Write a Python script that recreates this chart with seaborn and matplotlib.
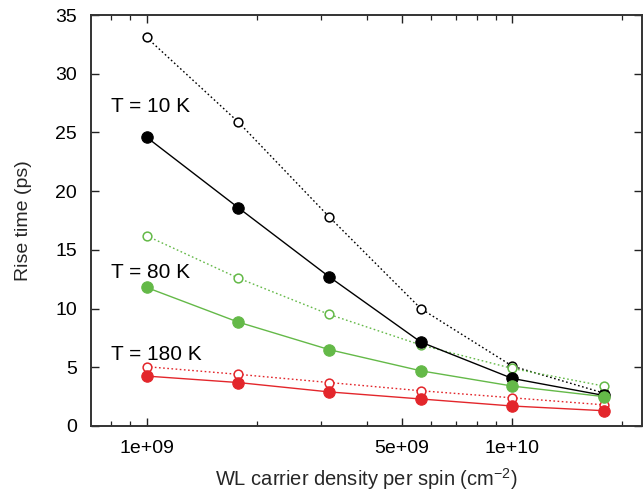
import matplotlib
matplotlib.use("Agg")
import matplotlib.pyplot as plt
import matplotlib.ticker as mticker
import numpy as np
import pandas as pd
import seaborn as sns

# Carrier density per spin (cm^-2)
density = [1.0e9, 1.78e9, 3.16e9, 5.62e9, 1.0e10, 1.78e10]

# Rise times (ps): filled = solid lines, open = dotted lines
rise_10K_filled = [24.6, 18.6, 12.7, 7.15, 4.05, 2.6]
rise_10K_open = [33.1, 25.9, 17.8, 10.0, 5.1, 2.8]
rise_80K_filled = [11.8, 8.85, 6.5, 4.7, 3.4, 2.5]
rise_80K_open = [16.2, 12.6, 9.5, 6.9, 4.9, 3.4]
rise_180K_filled = [4.25, 3.7, 2.9, 2.3, 1.7, 1.3]
rise_180K_open = [5.05, 4.4, 3.7, 3.0, 2.4, 1.8]

temp_labels = ["T = 10 K", "T = 80 K", "T = 180 K"]
xtick_values = [1e9, 5e9, 1e10]
xtick_labels = ["1e+09", "5e+09", "1e+10"]
ytick_values = [0, 5, 10, 15, 20, 25, 30, 35]

BLACK = "#000000"
GREEN = "#64b948"
RED = "#e3262b"

sns.set_style("ticks")
plt.rcParams["font.family"] = ["Liberation Sans", "DejaVu Sans"]
plt.rcParams["mathtext.fontset"] = "custom"
plt.rcParams["mathtext.rm"] = "Liberation Sans"

fig = plt.figure(figsize=(6.43, 4.94), dpi=100)
ax = fig.add_axes([0.1415, 0.1377, 0.8577, 0.8319])

series = [
    (rise_10K_open, BLACK, False),
    (rise_80K_open, GREEN, False),
    (rise_180K_open, RED, False),
    (rise_10K_filled, BLACK, True),
    (rise_80K_filled, GREEN, True),
    (rise_180K_filled, RED, True),
]

for values, color, filled in series:
    df = pd.DataFrame({"density": density, "rise": values})
    if filled:
        sns.lineplot(data=df, x="density", y="rise", ax=ax, color=color,
                     linewidth=1.0, marker="o", markersize=8.2,
                     markerfacecolor=color, markeredgecolor=color,
                     markeredgewidth=0.8, zorder=3)
    else:
        sns.lineplot(data=df, x="density", y="rise", ax=ax, color=color,
                     linewidth=1.0, linestyle=(0, (1.2, 1.8)), marker="o",
                     markersize=6.3, markerfacecolor="white",
                     markeredgecolor=color, markeredgewidth=1.1, zorder=2)

ax.set_xscale("log")
ax.set_xlim(7.05e8, 2.27e10)
ax.set_ylim(0, 35)

ax.xaxis.set_major_locator(mticker.FixedLocator(xtick_values))
ax.xaxis.set_major_formatter(mticker.FixedFormatter(xtick_labels))
minor = [m * 10 ** e for e in (8, 9, 10) for m in range(1, 10)]
minor = [v for v in minor if v not in xtick_values]
ax.xaxis.set_minor_locator(mticker.FixedLocator(minor))
ax.xaxis.set_minor_formatter(mticker.NullFormatter())
ax.yaxis.set_major_locator(mticker.FixedLocator(ytick_values))
ax.yaxis.set_minor_locator(mticker.NullLocator())

ax.tick_params(which="both", direction="in", top=True, right=True,
               labelsize=14, colors="#222222", labelcolor="black")
ax.tick_params(which="major", length=6, width=1.0)
ax.tick_params(axis="y", which="major", pad=10)
ax.tick_params(axis="x", which="major", pad=10)
ax.tick_params(which="minor", length=3.5, width=0.9)
for spine in ax.spines.values():
    spine.set_visible(True)
    spine.set_linewidth(1.4)
    spine.set_color("#333333")

ax.set_xlabel("WL carrier density per spin (cm$^{-2}$)", fontsize=14.5, labelpad=7)
ax.set_ylabel("Rise time (ps)", fontsize=14, labelpad=17)

label_y = [0.764, 0.361, 0.161]
for text, yy in zip(temp_labels, label_y):
    ax.text(0.037, yy, text, transform=ax.transAxes, fontsize=15,
            ha="left", va="baseline", color="black")

fig.savefig("out.png", dpi=100)
